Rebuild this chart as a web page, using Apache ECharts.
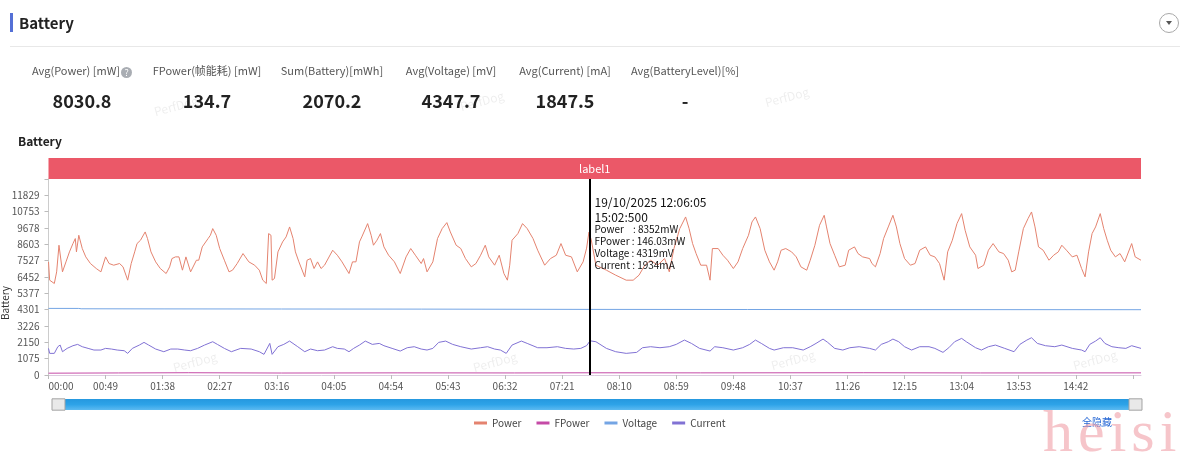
<!DOCTYPE html>
<html><head><meta charset="utf-8">
<script src="https://cdn.jsdelivr.net/npm/echarts@6/dist/echarts.min.js"></script>
<style>
html,body{margin:0;padding:0;width:1192px;height:461px;overflow:hidden;background:#fff;font-family:'Noto Sans CJK SC','Noto Sans',sans-serif;}
#chart{position:absolute;left:0;top:0;width:1192px;height:461px;}
.abs{position:absolute;}
.hbar{left:10px;top:13px;width:3px;height:19px;background:#5470d6;}
.htitle{left:19px;top:12px;font-size:15px;font-weight:bold;color:#222;line-height:22px;}
.hline{left:10px;top:46px;width:1170px;height:1px;background:#e8e8e8;}
.hcirc{left:1159px;top:13px;width:20px;height:20px;border:1px solid #a8a8a8;border-radius:50%;box-sizing:border-box;}
.hcirc:after{content:'';position:absolute;left:6px;top:7px;border-left:3px solid transparent;border-right:3px solid transparent;border-top:4px solid #555;}
.col{width:160px;text-align:center;white-space:nowrap;}
.lab{top:62px;height:16px;line-height:16px;font-size:11px;color:#555;}
.val{top:89px;height:22px;line-height:22px;font-size:18px;font-weight:bold;color:#222;}
.q{display:inline-block;width:11px;height:11px;border-radius:50%;background:#a9adb3;color:#fff;font-size:9px;line-height:11px;text-align:center;vertical-align:-1px;margin-left:1px;}
.heisi{left:1043px;top:401px;font-family:'Liberation Serif',serif;font-size:60px;line-height:60px;letter-spacing:5px;color:rgba(238,150,158,0.55);white-space:nowrap;}
.hide{left:1082px;top:415px;font-size:10px;line-height:14px;color:#2b6bd6;}
</style></head>
<body>
<div id="chart"></div>
<div class="abs hbar"></div>
<div class="abs htitle">Battery</div>
<div class="abs hline"></div>
<div class="abs hcirc"></div>
<div id="stats"></div>
<div class="abs hide">全隐藏</div>
<div class="abs heisi">heisi</div>
<script>
// ---- data ----
const statLabels = ['Avg(Power) [mW]','FPower(帧能耗) [mW]','Sum(Battery)[mWh]','Avg(Voltage) [mV]','Avg(Current) [mA]','Avg(BatteryLevel)[%]'];
const statValues = ['8030.8','134.7','2070.2','4347.7','1847.5','-'];
const seriesNames = ['Power','FPower','Voltage','Current'];
const yTickLabels = ['0','1075','2150','3226','4301','5377','6452','7527','8603','9678','10753','11829'];
const yTop = 11829;
const xMaxSec = 938;
const xLabelStepSec = 49;
const xLastLabelSec = 882;
const labelBands = [{name:'label1', from:0, to:938}];
const cursorSec = 464.5;
const tipLines = ['19/10/2025 12:06:05','15:02:500','Power    : 8352mW','FPower : 146.03mW','Voltage : 4319mV','Current : 1934mA'];

const power = [[0,7448],[1,6243],[5,6024],[7,6791],[9,8544],[10,8653],[12,6791],[15,7448],[18,8106],[21,8653],[23,8982],[24,8106],[26,9201],[29,8325],[32,7777],[36,7339],[41,7010],[45,6791],[49,7777],[52,7339],[56,7229],[61,7339],[64,7120],[68,6243],[71,7339],[74,8106],[76,8653],[79,8872],[83,9420],[85,8982],[88,8106],[92,7448],[96,7010],[101,6681],[104,7120],[106,7667],[109,7777],[112,7777],[115,6901],[118,7777],[122,6791],[127,7558],[129,7558],[132,8434],[137,8982],[139,9201],[141,9639],[144,9201],[147,8325],[151,7558],[155,6791],[158,6901],[162,7339],[167,7996],[169,7777],[172,7448],[177,7229],[181,6901],[184,6243],[187,6024],[189,9310],[191,9201],[192,6243],[194,6353],[197,8106],[201,8763],[204,9091],[207,9748],[210,8982],[212,8106],[215,7448],[220,6462],[222,7558],[225,7667],[228,7010],[231,7448],[234,7010],[237,7229],[244,8215],[248,7886],[252,7448],[258,6681],[261,7448],[264,7448],[267,8763],[269,9091],[274,9968],[277,9201],[279,8544],[282,8872],[285,9310],[288,8434],[292,7886],[297,7448],[302,6681],[307,7777],[311,8325],[315,7886],[320,7339],[322,7667],[325,6791],[330,7448],[334,8982],[338,9639],[342,10033],[345,9420],[350,8544],[354,8325],[358,7667],[363,7120],[367,7339],[371,7886],[375,8544],[378,7777],[383,7229],[387,7886],[391,6681],[394,6243],[396,7229],[398,8872],[403,9310],[407,9968],[411,9639],[416,8982],[420,8215],[426,7229],[431,7667],[436,7886],[440,8653],[444,7886],[449,7777],[454,6791],[459,7448],[462,8352],[464,9400],[466,8900],[470,7229],[479,6901],[487,6572],[496,6243],[502,6243],[507,6572],[512,7229],[517,7558],[523,7229],[529,7667],[533,6791],[537,8325],[542,9639],[547,10406],[550,9639],[553,8653],[556,7996],[560,7229],[565,7229],[568,6243],[570,8325],[575,8325],[579,7886],[583,7558],[588,7010],[592,7448],[596,8325],[601,9201],[604,10077],[607,10406],[611,9639],[615,8215],[619,7448],[623,6901],[626,7448],[629,8215],[633,8325],[638,8106],[642,7777],[646,7120],[651,6901],[654,7558],[658,8544],[662,9858],[666,10515],[668,9748],[671,8653],[675,7886],[679,7120],[684,7229],[687,8215],[692,8434],[695,7996],[699,7777],[705,7667],[707,7339],[710,7120],[714,7996],[717,8982],[721,9748],[725,10515],[728,9748],[731,8653],[735,7667],[740,7229],[744,7339],[748,8215],[753,8434],[757,7886],[761,7777],[765,7339],[769,6243],[772,8106],[776,8872],[780,9968],[784,10625],[787,9529],[791,8434],[796,7886],[798,7010],[803,7229],[807,8215],[811,8653],[816,8106],[820,7996],[824,7558],[827,6791],[830,6901],[833,8106],[837,9639],[841,10296],[844,10734],[847,9748],[850,8434],[854,8215],[859,7558],[863,7886],[867,8106],[870,8544],[874,8215],[879,7777],[883,7886],[887,7010],[890,6462],[893,8106],[896,9310],[899,9748],[903,10625],[906,9639],[909,8872],[912,8215],[916,7777],[920,7996],[924,7448],[930,8653],[933,7777],[938,7558]];

const fpower = [[0,120],[60,135],[120,150],[200,130],[300,140],[400,135],[464,146],[560,140],[700,150],[800,135],[938,140]];

const voltage = [[0,4385],[26,4383],[28,4360],[100,4352],[200,4345],[320,4338],[464,4319],[600,4312],[750,4305],[938,4300]];

const current = [[0,1752],[1,1424],[5,1424],[8,1862],[10,1972],[12,1533],[16,1752],[21,1928],[25,2016],[29,1862],[34,1752],[39,1643],[45,1643],[49,1752],[54,1709],[59,1643],[65,1599],[68,1424],[72,1752],[78,1972],[82,2147],[86,1972],[92,1709],[99,1533],[105,1709],[111,1709],[117,1643],[122,1599],[128,1752],[134,1972],[141,2191],[145,2016],[151,1752],[157,1533],[165,1752],[174,1709],[181,1533],[185,1358],[190,2081],[192,1358],[197,1862],[202,2016],[207,2234],[214,1862],[220,1533],[225,1709],[231,1599],[237,1643],[244,1862],[248,1752],[254,1709],[258,1533],[262,1752],[267,1972],[272,2234],[278,2016],[284,2081],[288,1928],[295,1752],[302,1577],[308,1796],[314,1862],[320,1709],[325,1643],[330,1752],[335,2147],[341,2234],[347,2016],[354,1862],[363,1709],[371,1796],[377,1862],[383,1709],[388,1643],[393,1424],[398,1972],[406,2234],[411,2081],[420,1796],[428,1796],[437,1862],[444,1752],[451,1709],[457,1752],[462,1934],[465,2250],[470,2191],[479,1752],[487,1533],[496,1424],[505,1490],[510,1796],[517,1862],[525,1796],[533,1862],[539,2016],[546,2300],[552,2081],[559,1752],[568,1577],[572,1862],[579,1796],[588,1643],[596,1796],[602,2016],[607,2300],[612,2081],[619,1752],[623,1643],[631,1796],[639,1796],[648,1643],[654,1862],[659,2081],[665,2366],[669,2147],[675,1752],[682,1643],[688,1796],[696,1862],[705,1752],[710,1643],[715,2016],[721,2191],[725,2366],[730,2191],[735,1862],[741,1643],[748,1862],[756,1862],[761,1752],[768,1490],[773,1796],[778,2191],[784,2410],[788,2191],[796,1796],[801,1643],[807,1862],[813,1972],[821,1752],[829,1533],[834,2016],[840,2300],[844,2453],[849,2081],[856,1928],[864,1862],[870,1972],[879,1752],[887,1643],[890,1533],[894,2016],[899,2234],[903,2453],[907,2081],[913,1862],[919,1796],[925,1752],[930,1928],[938,1752]];

// ---- stats row (layout) ----
const colCenters = [82,207,332,451,565,685];
const statsEl = document.getElementById('stats');
statLabels.forEach((t,i)=>{
  const l = document.createElement('div');
  l.className = 'abs col lab';
  l.style.left = (colCenters[i]-80)+'px';
  l.textContent = t;
  if(i===0){ const q=document.createElement('span'); q.className='q'; q.textContent='?'; l.appendChild(q); }
  statsEl.appendChild(l);
  const v = document.createElement('div');
  v.className = 'abs col val';
  v.style.left = (colCenters[i]-80)+'px';
  v.textContent = statValues[i];
  statsEl.appendChild(v);
});

// ---- chart ----
const FONT = 'Noto Sans CJK SC';
const yStep = yTop / (yTickLabels.length - 1);
const colors = ['#e4836f','#c54aa6','#74a5e4','#8172d4'];
function mmss(v){ const m=Math.floor(v/60), s=Math.round(v%60); return String(m).padStart(2,'0')+':'+String(s).padStart(2,'0'); }

const chart = echarts.init(document.getElementById('chart'));
const lineSeries = [power,fpower,voltage,current].map((d,i)=>({
  name: seriesNames[i], type:'line', data:d, xAxisIndex:0, yAxisIndex:0,
  showSymbol:false, symbol:'none', lineStyle:{width:1, color:colors[i]}, itemStyle:{color:colors[i]},
  emphasis:{disabled:true}, z: i===0?3:2
}));
lineSeries[0].markLine = {
  silent:true, symbol:['none','none'], label:{show:false}, animation:false,
  lineStyle:{color:'#000', width:2, type:'solid'}, emphasis:{disabled:true},
  data:[{xAxis:cursorSec}]
};
const bandSeries = {
  name:'band', type:'line', xAxisIndex:1, yAxisIndex:1, data:[[0,0]], showSymbol:false,
  lineStyle:{opacity:0}, silent:true,
  markArea:{ silent:true,
    itemStyle:{color:'#eb5868'},
    label:{show:true, position:'inside', color:'#fff', fontSize:11, fontFamily:FONT},
    data: labelBands.map(b=>[{xAxis:b.from, name:b.name},{xAxis:b.to}])
  }
};

const axisCommonX = {type:'value', min:0, max:xMaxSec, interval:xLabelStepSec};
const option = {
  animation:false,
  textStyle:{fontFamily:FONT},
  title:{text:'Battery', left:13, top:130, textStyle:{fontSize:12, fontWeight:'bold', color:'#222', fontFamily:FONT}},
  legend:{data:seriesNames, left:469, top:413, icon:'rect', itemWidth:13, itemHeight:3, itemGap:15,
    textStyle:{fontSize:10, color:'#444', fontFamily:FONT}, selectedMode:false},
  grid:[{left:48.5, right:51, top:179, bottom:86, outerBoundsMode:'none', containLabel:false},
        {left:48.5, right:51, top:158, height:21, outerBoundsMode:'none', containLabel:false}],
  xAxis:[
    Object.assign({}, axisCommonX, {gridIndex:0,
      axisLine:{show:true, onZero:false, lineStyle:{color:'#dccbdf'}},
      axisTick:{show:true, length:4, lineStyle:{color:'#bbb'}},
      axisLabel:{fontSize:10, color:'#555', margin:6, showMaxLabel:false, alignMinLabel:'left',
        formatter:v=> v>xLastLabelSec ? '' : mmss(v)},
      splitLine:{show:false}}),
    Object.assign({}, axisCommonX, {gridIndex:1, show:false})
  ],
  yAxis:[
    {type:'value', gridIndex:0, min:0, max:yStep*yTickLabels.length, interval:yStep,
      name:'Battery', nameLocation:'middle', nameGap:38, nameMoveOverlap:false,
      nameTextStyle:{fontSize:10, color:'#333', padding:[0,52,0,0]},
      axisLine:{show:true, lineStyle:{color:'#ccc'}},
      axisTick:{show:true, length:4, lineStyle:{color:'#bbb'}},
      axisLabel:{fontSize:10, color:'#555', margin:9, showMaxLabel:false,
        formatter:v=>{ const k=Math.round(v/yStep); return k<yTickLabels.length? yTickLabels[k] : ''; }},
      splitLine:{show:false}},
    {type:'value', gridIndex:1, min:0, max:1, show:false}
  ],
  dataZoom:[{type:'slider', xAxisIndex:[0,1], filterMode:'none', start:0, end:100,
    left:56, right:57, top:399, height:11,
    backgroundColor:'transparent', borderColor:'transparent',
    fillerColor:new echarts.graphic.LinearGradient(0,0,0,1,[{offset:0,color:'#5cbaf1'},{offset:0.5,color:'#2ea3e8'},{offset:1,color:'#2598df'}]),
    dataBackground:{lineStyle:{opacity:0}, areaStyle:{opacity:0}},
    selectedDataBackground:{lineStyle:{opacity:0}, areaStyle:{opacity:0}},
    handleIcon:'path://M0,0H16V14H0Z', handleSize:'118%',
    handleStyle:{color:'#e9e9e9', borderColor:'#a3a3a3', borderWidth:1},
    emphasis:{handleStyle:{color:'#e9e9e9', borderColor:'#a3a3a3'}},
    moveHandleSize:0, showDetail:false, brushSelect:false, showDataShadow:false
  }],
  series: lineSeries.concat([bandSeries])
};
chart.setOption(option);

const p = chart.convertToPixel({xAxisIndex:0, yAxisIndex:0}, [cursorSec, 0]);
const tipY = [202.5, 217, 229, 241, 253.5, 265.5];
const tipSize = [12,12,10,10,10,10];
const watermarks = [[176,106],[482,101],[787,97],[195,362],[495,362],[793,360],[1095,360]];
const elements = [];
watermarks.forEach(w=>elements.push({type:'text', x:w[0], y:w[1], rotation:0.26, silent:true, z:0,
  style:{text:'PerfDog', fill:'rgba(0,0,0,0.07)', font:'12px '+FONT, align:'center', verticalAlign:'middle'}}));
tipLines.forEach((t,i)=>elements.push({type:'text', x:p[0]+5, y:tipY[i], silent:true, z:100,
  style:{text:t, fill:'#111', font:tipSize[i]+'px '+FONT, align:'left', verticalAlign:'middle'}}));
chart.setOption({graphic:{elements}});
</script>
</body></html>
